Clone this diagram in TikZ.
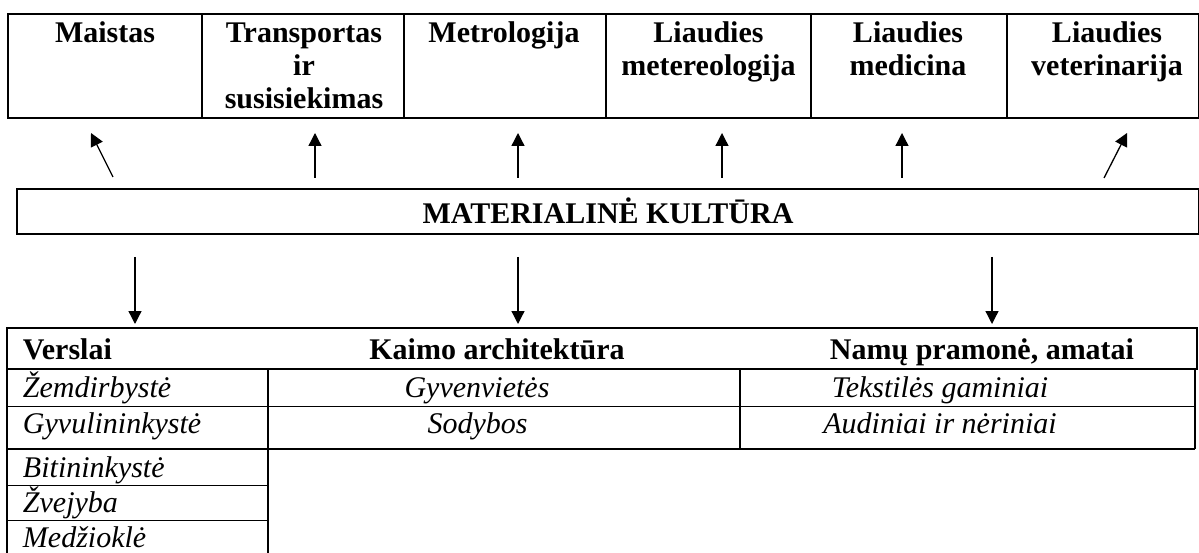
\documentclass[tikz,border=0pt]{standalone}
\usepackage{fontspec}
\setmainfont{Liberation Serif}
\usetikzlibrary{arrows.meta}
\begin{document}
\begin{tikzpicture}[x=1pt,y=-1pt,
  every node/.style={font=\fontsize{30}{33}\selectfont, inner sep=0pt, outer sep=0pt},
  hd/.style={font=\fontsize{30}{33}\selectfont\bfseries, anchor=base},
  it/.style={font=\fontsize{30}{33}\selectfont\itshape, anchor=base},
  cellbox/.style={draw, line width=2pt, minimum height=104pt},
  arr/.style={line width=1.3pt, -{Triangle[length=13pt,width=13pt]}},
  thinline/.style={line width=1pt},
  thickline/.style={line width=1.8pt}]
\useasboundingbox (0,0) rectangle (1199,553);

% top row of boxes
\node[cellbox, minimum width=194pt] (c1) at (105,66) {};
\node[cellbox, minimum width=202pt] (c2) at (303,66) {};
\node[cellbox, minimum width=202pt] (c3) at (505,66) {};
\node[cellbox, minimum width=205pt] (c4) at (708.5,66) {};
\node[cellbox, minimum width=196pt] (c5) at (909,66) {};
\node[cellbox, minimum width=192pt] (c6) at (1103,66) {};
\draw[line width=2.6pt] (c1.north west) rectangle (c6.south east);

\node[hd] (t1) at (105,43) {Maistas};
\node[hd] (t2) at (304,43) {\begin{tabular}[t]{@{}c@{}}Transportas\\ir\\susisiekimas\end{tabular}};
\node[hd] (t3) at (504,43) {Metrologija};
\node[hd] (t4) at (708.5,43) {\begin{tabular}[t]{@{}c@{}}Liaudies\\metereologija\end{tabular}};
\node[hd] (t5) at (908,43) {\begin{tabular}[t]{@{}c@{}}Liaudies\\medicina\end{tabular}};
\node[hd] (t6) at (1107,43) {\begin{tabular}[t]{@{}c@{}}Liaudies\\veterinarija\end{tabular}};

% central box
\node[draw, thickline, minimum width=1182pt, minimum height=45pt] (mat) at (608,211.5) {};
\node[hd] (mtext) at (608,224) {MATERIALINĖ KULTŪRA};

% upward arrows
\coordinate (u1a) at (113,177); \coordinate (u1b) at (91,133);
\coordinate (u2a) at (315,178); \coordinate (u2b) at (315,133);
\coordinate (u3a) at (518,178); \coordinate (u3b) at (518,133);
\coordinate (u4a) at (722,178); \coordinate (u4b) at (722,133);
\coordinate (u5a) at (902,178); \coordinate (u5b) at (902,133);
\coordinate (u6a) at (1104,178); \coordinate (u6b) at (1127,133);
\foreach \i in {1,...,6} {\draw[arr] (u\i a) -- (u\i b);}

% downward arrows
\coordinate (d1a) at (135,257); \coordinate (d1b) at (135,324);
\coordinate (d2a) at (518,257); \coordinate (d2b) at (518,324);
\coordinate (d3a) at (992,257); \coordinate (d3b) at (992,324);
\foreach \i in {1,2,3} {\draw[arr] (d\i a) -- (d\i b);}

% bottom header
\node[draw, thickline, minimum width=1190pt, minimum height=41pt] (hdr) at (602,348.5) {};
\node[hd, anchor=base west] (h1) at (23,359) {Verslai};
\node[hd] (h2) at (497,359) {Kaimo architektūra};
\node[hd] (h3) at (982,359) {Namų pramonė, amatai};

% table lines
\draw[thickline] (7,369) -- (7,560);
\draw[thickline] (268,369) -- (268,560);
\draw[thickline] (740,369) -- (740,449);
\draw[line width=1.3pt] (1195,369) -- (1195,449);
\draw[thinline] (7,406) -- (1195,406);
\draw[thickline] (7,449) -- (1195,449);
\draw[thinline] (7,485) -- (268,485);
\draw[thinline] (7,520) -- (268,520);

% table texts
\node[it, anchor=base west] (v1) at (23,397) {Žemdirbystė};
\node[it, anchor=base west] (v2) at (23,433) {Gyvulininkystė};
\node[it, anchor=base west] (v3) at (23,477) {Bitininkystė};
\node[it, anchor=base west] (v4) at (23,512) {Žvejyba};
\node[it, anchor=base west] (v5) at (23,547) {Medžioklė};
\node[it] (k1) at (477,397) {Gyvenvietės};
\node[it] (k2) at (477.5,433) {Sodybos};
\node[it] (n1) at (940,397) {Tekstilės gaminiai};
\node[it] (n2) at (940,433) {Audiniai ir nėriniai};
\end{tikzpicture}
\end{document}
